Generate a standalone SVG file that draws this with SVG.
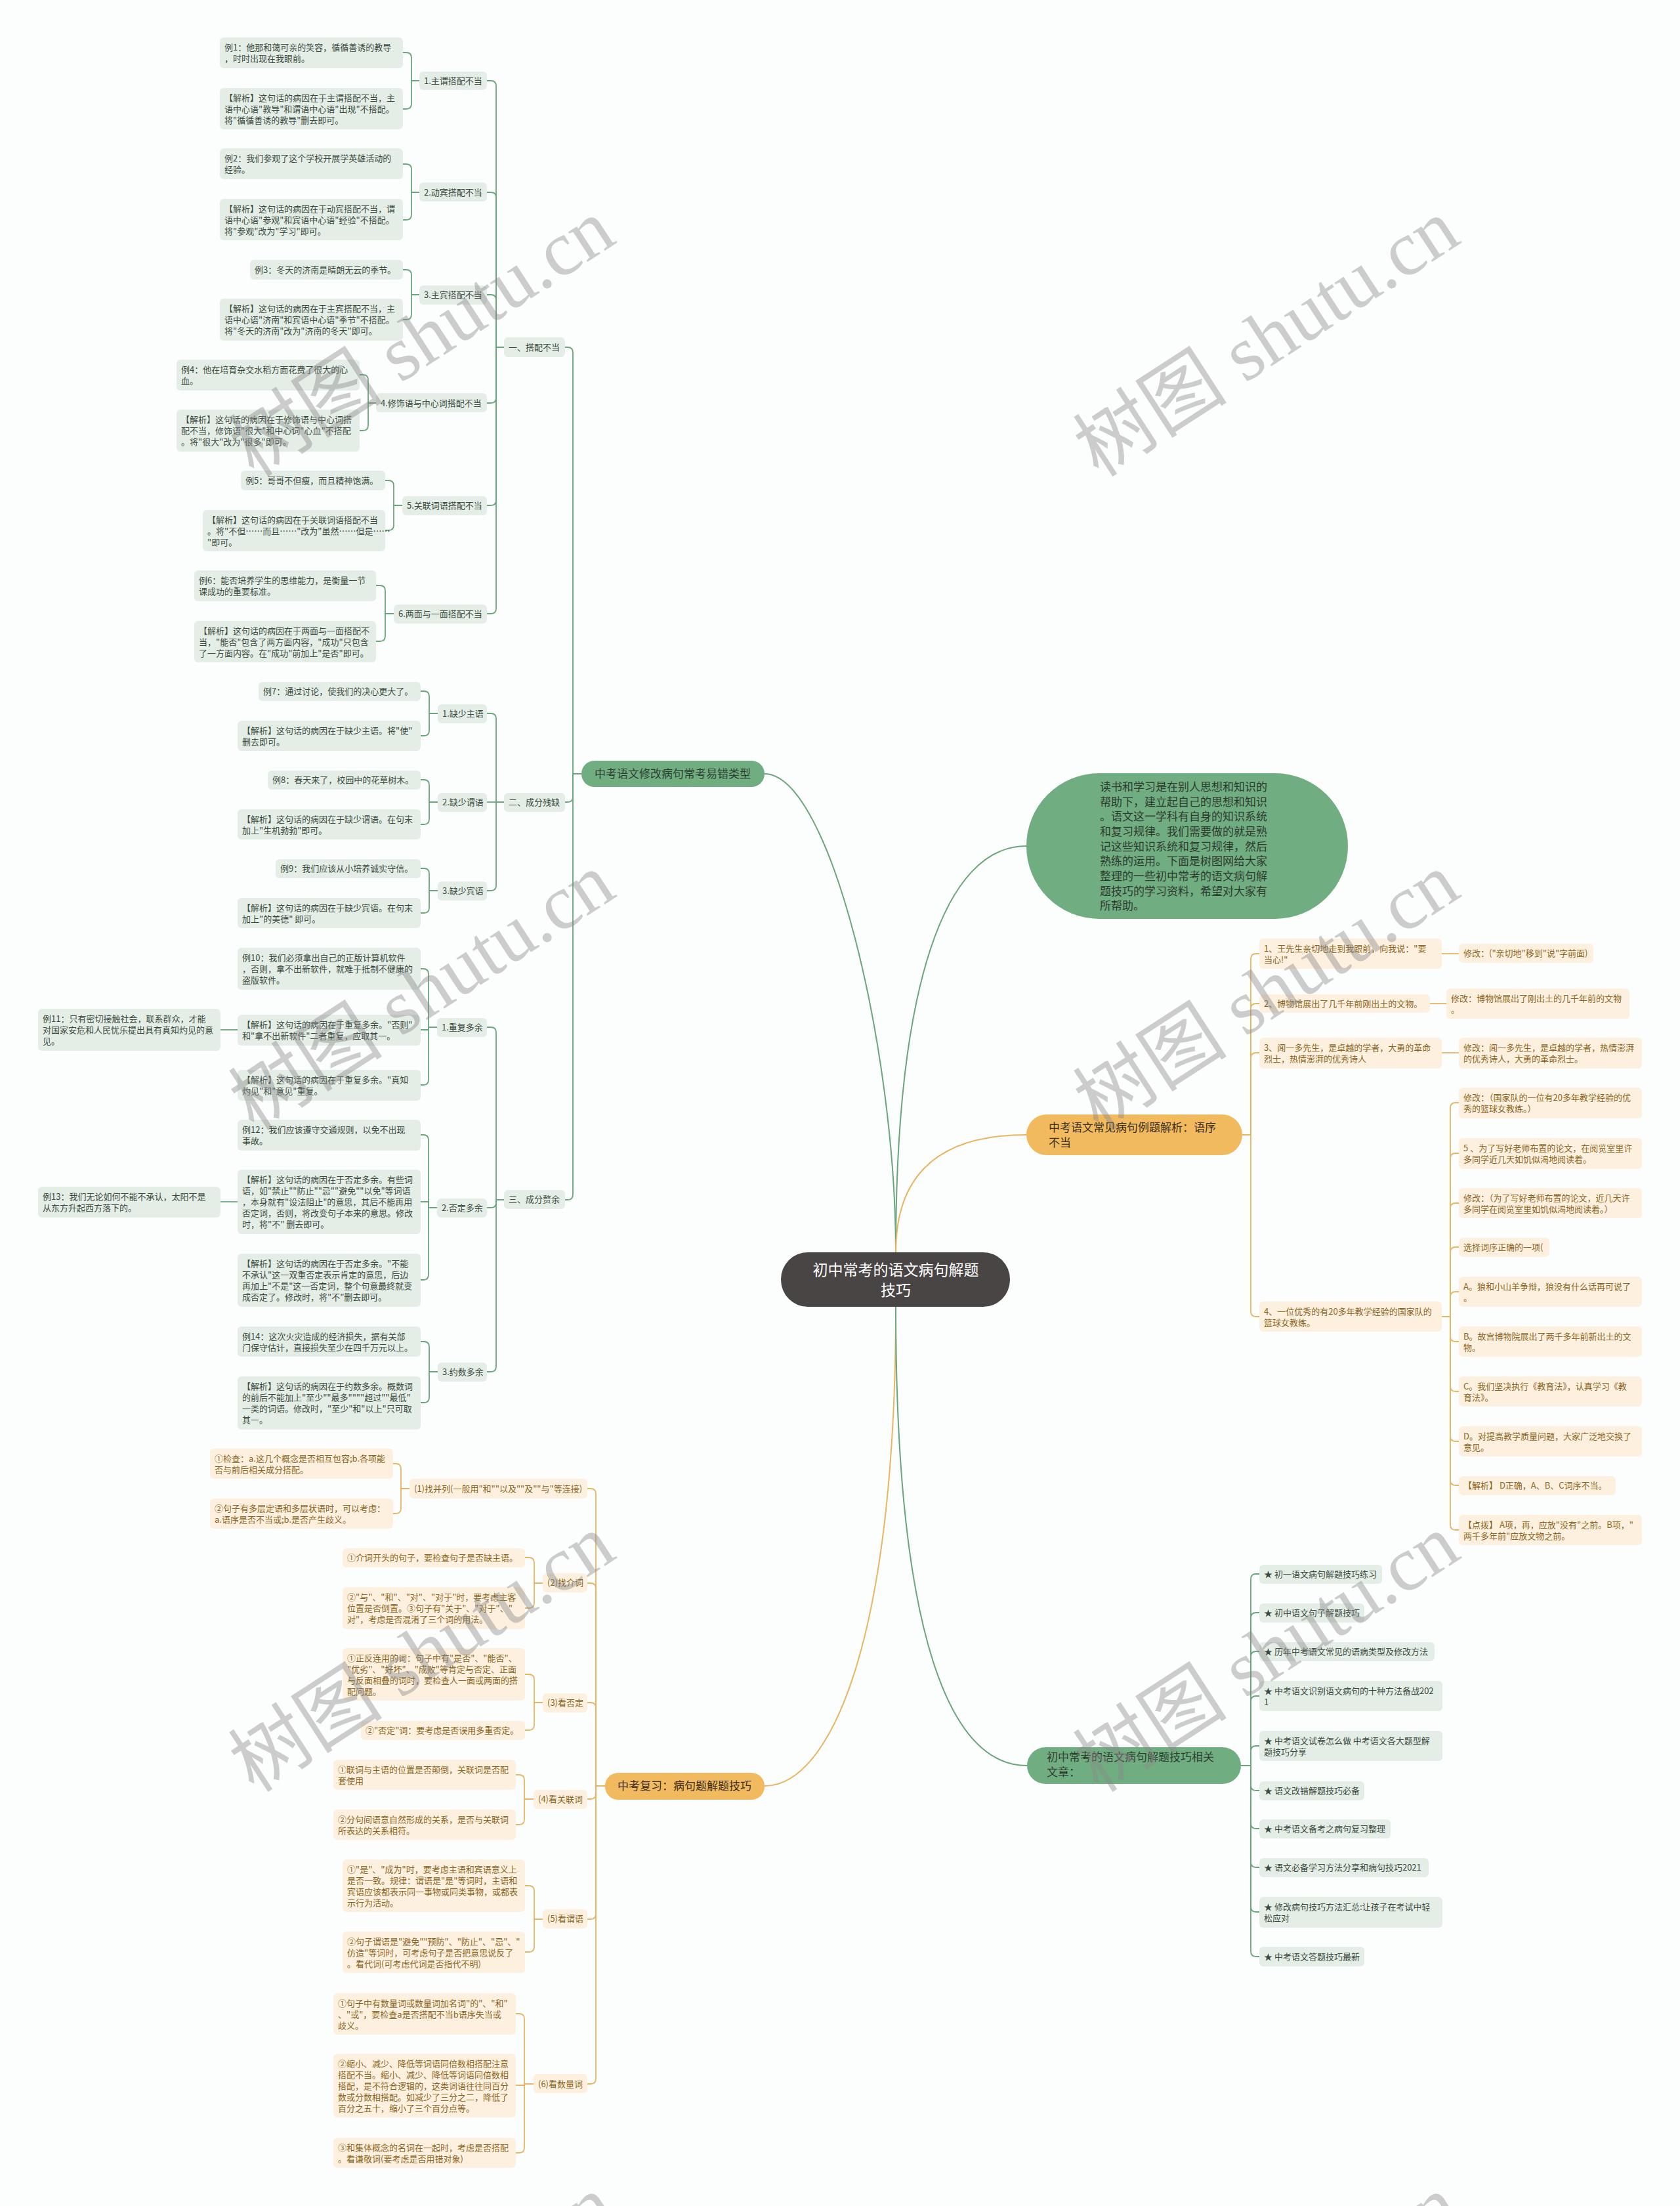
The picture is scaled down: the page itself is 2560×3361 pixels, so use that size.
<svg xmlns="http://www.w3.org/2000/svg" width="2560" height="3361" viewBox="0 0 2560 3361">
<style>
.lg{fill:#e4eee6}
.lo{fill:#fdf0df}
text{font-family:'Noto Sans CJK SC','Liberation Sans',sans-serif}
.tg{font-size:13px;fill:#3b4a3e}
.to{font-size:13px;fill:#8b6522}
.cg{fill:none;stroke:#6aa57b;stroke-width:1.8}
.co{fill:none;stroke:#e8b662;stroke-width:1.8}
.cc{fill:none;stroke-width:2}
.wm{font-family:'Liberation Serif','Noto Sans CJK SC',serif;font-size:118px;fill:#888;opacity:0.42}
</style>
<rect x="0" y="0" width="2560" height="3361" fill="#fcfefd"/>

<g id="connectors">
<path class="cc" stroke="#6aa57b" d="M1365 1908 C1365 1600 1265 1179 1165 1179"/>
<path class="cc" stroke="#6aa57b" d="M1365 1908 C1365 1500 1440 1289 1564 1289"/>
<path class="cc" stroke="#e8b662" d="M1365 1908 C1365 1790 1430 1729 1564 1729"/>
<path class="cc" stroke="#e8b662" d="M1365 1991 C1365 2500 1265 2721 1165 2721"/>
<path class="cc" stroke="#6aa57b" d="M1365 1991 C1365 2500 1450 2690 1565 2690"/>

<path class="cg" d="M886 1179 H873 V537 Q873 529 865 529 H861"/>
<path class="cg" d="M886 1179 H873 V1214 Q873 1222 865 1222 H861"/>
<path class="cg" d="M886 1179 H873 V1820 Q873 1828 865 1828 H860"/>

<path class="cg" d="M768 529 H756 V131 Q756 123 748 123 H742"/>
<path class="cg" d="M768 529 H756 V301 Q756 293 748 293 H742"/>
<path class="cg" d="M768 529 H756 V457 Q756 449 748 449 H742"/>
<path class="cg" d="M768 529 H756 V606 Q756 614 748 614 H742"/>
<path class="cg" d="M768 529 H756 V762 Q756 770 748 770 H742"/>
<path class="cg" d="M768 529 H756 V927 Q756 935 748 935 H742"/>

<path class="cg" d="M639 123 H627 V88 Q627 80 619 80 H614"/>
<path class="cg" d="M639 123 H627 V158 Q627 166 619 166 H614"/>
<path class="cg" d="M639 293 H627 V258 Q627 250 619 250 H614"/>
<path class="cg" d="M639 293 H627 V327 Q627 335 619 335 H614"/>
<path class="cg" d="M639 449 H627 V419 Q627 411 619 411 H614"/>
<path class="cg" d="M639 449 H627 V479 Q627 487 619 487 H614"/>
<path class="cg" d="M573 614 H561 V579 Q561 571 553 571 H548"/>
<path class="cg" d="M573 614 H561 V648 Q561 656 553 656 H548"/>
<path class="cg" d="M613 770 H600 V740 Q600 732 592 732 H587"/>
<path class="cg" d="M613 770 H600 V800 Q600 808 592 808 H587"/>
<path class="cg" d="M600 935 H587 V900 Q587 892 579 892 H573"/>
<path class="cg" d="M600 935 H587 V969 Q587 977 579 977 H573"/>

<path class="cg" d="M768 1222 H756 V1095 Q756 1087 748 1087 H742"/>
<path class="cg" d="M768 1222 H742"/>
<path class="cg" d="M768 1222 H756 V1349 Q756 1357 748 1357 H742"/>
<path class="cg" d="M667 1087 H654 V1061 Q654 1053 646 1053 H641"/>
<path class="cg" d="M667 1087 H654 V1113 Q654 1121 646 1121 H641"/>
<path class="cg" d="M667 1222 H654 V1196 Q654 1188 646 1188 H641"/>
<path class="cg" d="M667 1222 H654 V1248 Q654 1256 646 1256 H641"/>
<path class="cg" d="M667 1357 H654 V1331 Q654 1323 646 1323 H641"/>
<path class="cg" d="M667 1357 H654 V1383 Q654 1391 646 1391 H641"/>

<path class="cg" d="M768 1828 H756 V1573 Q756 1565 748 1565 H742"/>
<path class="cg" d="M768 1828 H756 V1832 Q756 1840 748 1840 H742"/>
<path class="cg" d="M768 1828 H756 V2082 Q756 2090 748 2090 H742"/>
<path class="cg" d="M666 1565 H653 V1484 Q653 1476 645 1476 H641"/>
<path class="cg" d="M666 1565 H653 V1569 H641"/>
<path class="cg" d="M666 1565 H653 V1645 Q653 1653 645 1653 H641"/>
<path class="cg" d="M362 1569 H336"/>
<path class="cg" d="M666 1840 H653 V1737 Q653 1729 645 1729 H641"/>
<path class="cg" d="M666 1840 H653 V1831 H641"/>
<path class="cg" d="M666 1840 H653 V1942 Q653 1950 645 1950 H641"/>
<path class="cg" d="M362 1831 H336"/>
<path class="cg" d="M667 2090 H654 V2052 Q654 2044 646 2044 H641"/>
<path class="cg" d="M667 2090 H654 V2129 Q654 2137 646 2137 H641"/>

<path class="co" d="M922 2721 H908 V2276 Q908 2268 900 2268 H895"/>
<path class="co" d="M922 2721 H908 V2420 Q908 2412 900 2412 H895"/>
<path class="co" d="M922 2721 H908 V2602 Q908 2594 900 2594 H895"/>
<path class="co" d="M922 2721 H908 V2733 Q908 2741 900 2741 H895"/>
<path class="co" d="M922 2721 H908 V2916 Q908 2924 900 2924 H895"/>
<path class="co" d="M922 2721 H908 V3167 Q908 3175 900 3175 H895"/>
<path class="co" d="M624 2268 H611 V2238 Q611 2230 603 2230 H599"/>
<path class="co" d="M624 2268 H611 V2298 Q611 2306 603 2306 H599"/>
<path class="co" d="M827 2412 H814 V2381 Q814 2373 806 2373 H800"/>
<path class="co" d="M827 2412 H814 V2442 Q814 2450 806 2450 H800"/>
<path class="co" d="M827 2594 H814 V2559 Q814 2551 806 2551 H800"/>
<path class="co" d="M827 2594 H814 V2628 Q814 2636 806 2636 H800"/>
<path class="co" d="M813 2741 H799 V2712 Q799 2704 791 2704 H786"/>
<path class="co" d="M813 2741 H799 V2772 Q799 2780 791 2780 H786"/>
<path class="co" d="M827 2924 H814 V2881 Q814 2873 806 2873 H800"/>
<path class="co" d="M827 2924 H814 V2966 Q814 2974 806 2974 H800"/>
<path class="co" d="M813 3175 H799 V3076 Q799 3068 791 3068 H786"/>
<path class="co" d="M813 3175 H799 V3177 H786"/>
<path class="co" d="M813 3175 H799 V3272 Q799 3280 791 3280 H786"/>

<path class="co" d="M1893 1729 H1906 V1461 Q1906 1453 1914 1453 H1919"/>
<path class="co" d="M1893 1729 H1906 V1537 Q1906 1529 1914 1529 H1919"/>
<path class="co" d="M1893 1729 H1906 V1612 Q1906 1604 1914 1604 H1919"/>
<path class="co" d="M1893 1729 H1906 V1998 Q1906 2006 1914 2006 H1919"/>
<path class="co" d="M2197 1453 H2223"/>
<path class="co" d="M2179 1529 H2204"/>
<path class="co" d="M2197 1604 H2223"/>
<path class="co" d="M2197 2006 H2210 V1688 Q2210 1680 2218 1680 H2223"/>
<path class="co" d="M2197 2006 H2210 V1765 Q2210 1757 2218 1757 H2223"/>
<path class="co" d="M2197 2006 H2210 V1841 Q2210 1833 2218 1833 H2223"/>
<path class="co" d="M2197 2006 H2210 V1908 Q2210 1900 2218 1900 H2223"/>
<path class="co" d="M2197 2006 H2210 V1976 Q2210 1968 2218 1968 H2223"/>
<path class="co" d="M2197 2006 H2210 V2036 Q2210 2044 2218 2044 H2223"/>
<path class="co" d="M2197 2006 H2210 V2112 Q2210 2120 2218 2120 H2223"/>
<path class="co" d="M2197 2006 H2210 V2188 Q2210 2196 2218 2196 H2223"/>
<path class="co" d="M2197 2006 H2210 V2255 Q2210 2263 2218 2263 H2223"/>
<path class="co" d="M2197 2006 H2210 V2323 Q2210 2331 2218 2331 H2223"/>

<path class="cg" d="M1891 2690 H1906 V2406 Q1906 2398 1914 2398 H1919"/>
<path class="cg" d="M1891 2690 H1906 V2465 Q1906 2457 1914 2457 H1919"/>
<path class="cg" d="M1891 2690 H1906 V2524 Q1906 2516 1914 2516 H1919"/>
<path class="cg" d="M1891 2690 H1906 V2592 Q1906 2584 1914 2584 H1919"/>
<path class="cg" d="M1891 2690 H1906 V2668 Q1906 2660 1914 2660 H1919"/>
<path class="cg" d="M1891 2690 H1906 V2720 Q1906 2728 1914 2728 H1919"/>
<path class="cg" d="M1891 2690 H1906 V2778 Q1906 2786 1914 2786 H1919"/>
<path class="cg" d="M1891 2690 H1906 V2837 Q1906 2845 1914 2845 H1919"/>
<path class="cg" d="M1891 2690 H1906 V2905 Q1906 2913 1914 2913 H1919"/>
<path class="cg" d="M1891 2690 H1906 V2973 Q1906 2981 1914 2981 H1919"/>
</g>

<g id="center"><rect x="1190" y="1908" width="349" height="83" rx="41" fill="#4a4545"/><text font-size="23" fill="#ffffff" text-anchor="middle"><tspan x="1365" y="1943">初中常考的语文病句解题</tspan><tspan x="1365" y="1974">技巧</tspan></text></g>

<g id="intro"><rect x="1564" y="1178" width="490" height="222" rx="111" fill="#70ae81"/><text font-size="17" fill="#2e3a30"><tspan x="1676" y="1205">读书和学习是在别人思想和知识的</tspan><tspan x="1676" y="1228">帮助下，建立起自己的思想和知识</tspan><tspan x="1676" y="1250">。语文这一学科有自身的知识系统</tspan><tspan x="1676" y="1273">和复习规律。我们需要做的就是熟</tspan><tspan x="1676" y="1296">记这些知识系统和复习规律，然后</tspan><tspan x="1676" y="1318">熟练的运用。下面是树图网给大家</tspan><tspan x="1676" y="1341">整理的一些初中常考的语文病句解</tspan><tspan x="1676" y="1364">题技巧的学习资料，希望对大家有</tspan><tspan x="1676" y="1386">所帮助。</tspan></text></g>

<g id="main-green"><rect x="886" y="1159" width="279" height="40" rx="20" fill="#70ae81"/><text font-size="17" fill="#2d3f31" text-anchor="middle" x="1025" y="1185">中考语文修改病句常考易错类型</text></g>
<g id="main-orange"><rect x="922" y="2701" width="243" height="41" rx="20" fill="#f2ba5e"/><text font-size="17" fill="#3a2e1a" text-anchor="middle" x="1043" y="2727">中考复习：病句题解题技巧</text></g>
<g id="main-order"><rect x="1564" y="1698" width="329" height="62" rx="31" fill="#f2ba5e"/><text font-size="17" fill="#3a2e1a"><tspan x="1598" y="1724">中考语文常见病句例题解析：语序</tspan><tspan x="1598" y="1747">不当</tspan></text></g>
<g id="main-related"><rect x="1565" y="2662" width="326" height="56" rx="28" fill="#70ae81"/><text font-size="17" fill="#2d3f31"><tspan x="1595" y="2683">初中常考的语文病句解题技巧相关</tspan><tspan x="1595" y="2706">文章：</tspan></text></g>

<g id="n1"><rect class="lg" x="768" y="514" width="93" height="30" rx="6"/><text class="tg" x="775" y="534">一、搭配不当</text></g>
<g id="z1"><rect class="lg" x="639" y="109" width="103" height="28" rx="6"/><text class="tg" x="646" y="128">1.主谓搭配不当</text></g>
<g id="e1"><rect class="lg" x="335" y="57" width="279" height="47" rx="6"/><text class="tg"><tspan x="342" y="77">例1：他那和蔼可亲的笑容，循循善诱的教导</tspan><tspan x="342" y="94">，时时出现在我眼前。</tspan></text></g>
<g id="a1"><rect class="lg" x="335" y="134" width="279" height="63" rx="6"/><text class="tg"><tspan x="342" y="154">【解析】这句话的病因在于主谓搭配不当，主</tspan><tspan x="342" y="171">语中心语"教导"和谓语中心语"出现"不搭配。</tspan><tspan x="342" y="188">将"循循善诱的教导"删去即可。</tspan></text></g>
<g id="z2"><rect class="lg" x="639" y="278" width="103" height="29" rx="6"/><text class="tg" x="646" y="298">2.动宾搭配不当</text></g>
<g id="e2"><rect class="lg" x="335" y="226" width="279" height="47" rx="6"/><text class="tg"><tspan x="342" y="246">例2：我们参观了这个学校开展学英雄活动的</tspan><tspan x="342" y="263">经验。</tspan></text></g>
<g id="a2"><rect class="lg" x="335" y="303" width="279" height="63" rx="6"/><text class="tg"><tspan x="342" y="323">【解析】这句话的病因在于动宾搭配不当，谓</tspan><tspan x="342" y="340">语中心语"参观"和宾语中心语"经验"不搭配。</tspan><tspan x="342" y="357">将"参观"改为"学习"即可。</tspan></text></g>
<g id="z3"><rect class="lg" x="639" y="435" width="103" height="29" rx="6"/><text class="tg" x="646" y="454">3.主宾搭配不当</text></g>
<g id="e3"><rect class="lg" x="381" y="396" width="233" height="30" rx="6"/><text class="tg" x="388" y="416">例3：冬天的济南是晴朗无云的季节。</text></g>
<g id="a3"><rect class="lg" x="335" y="455" width="279" height="64" rx="6"/><text class="tg"><tspan x="342" y="475">【解析】这句话的病因在于主宾搭配不当，主</tspan><tspan x="342" y="492">语中心语"济南"和宾语中心语"季节"不搭配。</tspan><tspan x="342" y="509">将"冬天的济南"改为"济南的冬天"即可。</tspan></text></g>
<g id="z4"><rect class="lg" x="573" y="599" width="169" height="29" rx="6"/><text class="tg" x="580" y="619">4.修饰语与中心词搭配不当</text></g>
<g id="e4"><rect class="lg" x="269" y="548" width="279" height="47" rx="6"/><text class="tg"><tspan x="276" y="568">例4：他在培育杂交水稻方面花费了很大的心</tspan><tspan x="276" y="585">血。</tspan></text></g>
<g id="a4"><rect class="lg" x="269" y="624" width="279" height="64" rx="6"/><text class="tg"><tspan x="276" y="644">【解析】这句话的病因在于修饰语与中心词搭</tspan><tspan x="276" y="661">配不当，修饰语"很大"和中心词"心血"不搭配</tspan><tspan x="276" y="678">。将"很大"改为"很多"即可。</tspan></text></g>
<g id="z5"><rect class="lg" x="613" y="756" width="129" height="29" rx="6"/><text class="tg" x="620" y="775">5.关联词语搭配不当</text></g>
<g id="e5"><rect class="lg" x="367" y="717" width="220" height="30" rx="6"/><text class="tg" x="374" y="737">例5：哥哥不但瘦，而且精神饱满。</text></g>
<g id="a5"><rect class="lg" x="309" y="777" width="278" height="63" rx="6"/><text class="tg"><tspan x="316" y="797">【解析】这句话的病因在于关联词语搭配不当</tspan><tspan x="316" y="814">。将"不但……而且……"改为"虽然……但是……</tspan><tspan x="316" y="831">"即可。</tspan></text></g>
<g id="z6"><rect class="lg" x="600" y="921" width="142" height="29" rx="6"/><text class="tg" x="607" y="940">6.两面与一面搭配不当</text></g>
<g id="e6"><rect class="lg" x="296" y="869" width="277" height="47" rx="6"/><text class="tg"><tspan x="303" y="889">例6：能否培养学生的思维能力，是衡量一节</tspan><tspan x="303" y="906">课成功的重要标准。</tspan></text></g>
<g id="a6"><rect class="lg" x="296" y="946" width="277" height="63" rx="6"/><text class="tg"><tspan x="303" y="966">【解析】这句话的病因在于两面与一面搭配不</tspan><tspan x="303" y="983">当，"能否"包含了两方面内容，"成功"只包含</tspan><tspan x="303" y="1000">了一方面内容。在"成功"前加上"是否"即可。</tspan></text></g>

<g id="n2"><rect class="lg" x="768" y="1208" width="93" height="29" rx="6"/><text class="tg" x="775" y="1227">二、成分残缺</text></g>
<g id="k1"><rect class="lg" x="667" y="1073" width="75" height="29" rx="6"/><text class="tg" x="674" y="1092">1.缺少主语</text></g>
<g id="e7"><rect class="lg" x="394" y="1039" width="247" height="29" rx="6"/><text class="tg" x="401" y="1058">例7：通过讨论，使我们的决心更大了。</text></g>
<g id="a7"><rect class="lg" x="362" y="1098" width="279" height="46" rx="6"/><text class="tg"><tspan x="369" y="1118">【解析】这句话的病因在于缺少主语。将"使"</tspan><tspan x="369" y="1135">删去即可。</tspan></text></g>
<g id="k2"><rect class="lg" x="667" y="1208" width="75" height="29" rx="6"/><text class="tg" x="674" y="1227">2.缺少谓语</text></g>
<g id="e8"><rect class="lg" x="408" y="1174" width="233" height="29" rx="6"/><text class="tg" x="415" y="1193">例8：春天来了，校园中的花草树木。</text></g>
<g id="a8"><rect class="lg" x="362" y="1233" width="279" height="46" rx="6"/><text class="tg"><tspan x="369" y="1253">【解析】这句话的病因在于缺少谓语。在句末</tspan><tspan x="369" y="1270">加上"生机勃勃"即可。</tspan></text></g>
<g id="k3"><rect class="lg" x="667" y="1343" width="75" height="29" rx="6"/><text class="tg" x="674" y="1362">3.缺少宾语</text></g>
<g id="e9"><rect class="lg" x="420" y="1309" width="221" height="29" rx="6"/><text class="tg" x="427" y="1328">例9：我们应该从小培养诚实守信。</text></g>
<g id="a9"><rect class="lg" x="362" y="1368" width="279" height="46" rx="6"/><text class="tg"><tspan x="369" y="1388">【解析】这句话的病因在于缺少宾语。在句末</tspan><tspan x="369" y="1405">加上"的美德" 即可。</tspan></text></g>

<g id="n3"><rect class="lg" x="768" y="1813" width="93" height="29" rx="6"/><text class="tg" x="775" y="1832">三、成分赘余</text></g>
<g id="r1"><rect class="lg" x="666" y="1551" width="76" height="29" rx="6"/><text class="tg" x="673" y="1570">1.重复多余</text></g>
<g id="e10"><rect class="lg" x="362" y="1444" width="279" height="64" rx="6"/><text class="tg"><tspan x="369" y="1464">例10：我们必须拿出自己的正版计算机软件</tspan><tspan x="369" y="1481">，否则，拿不出新软件，就难于抵制不健康的</tspan><tspan x="369" y="1498">盗版软件。</tspan></text></g>
<g id="a10"><rect class="lg" x="362" y="1546" width="279" height="47" rx="6"/><text class="tg"><tspan x="369" y="1566">【解析】这句话的病因在于重复多余。"否则"</tspan><tspan x="369" y="1583">和"拿不出新软件"二者重复，应取其一。</tspan></text></g>
<g id="e11"><rect class="lg" x="58" y="1537" width="278" height="64" rx="6"/><text class="tg"><tspan x="65" y="1557">例11：只有密切接触社会，联系群众，才能</tspan><tspan x="65" y="1574">对国家安危和人民忧乐提出具有真知灼见的意</tspan><tspan x="65" y="1591">见。</tspan></text></g>
<g id="a11"><rect class="lg" x="362" y="1630" width="279" height="47" rx="6"/><text class="tg"><tspan x="369" y="1650">【解析】这句话的病因在于重复多余。"真知</tspan><tspan x="369" y="1667">灼见"和"意见"重复。</tspan></text></g>
<g id="r2"><rect class="lg" x="666" y="1826" width="76" height="29" rx="6"/><text class="tg" x="673" y="1845">2.否定多余</text></g>
<g id="e12"><rect class="lg" x="362" y="1706" width="279" height="47" rx="6"/><text class="tg"><tspan x="369" y="1726">例12：我们应该遵守交通规则，以免不出现</tspan><tspan x="369" y="1743">事故。</tspan></text></g>
<g id="a12"><rect class="lg" x="362" y="1782" width="279" height="98" rx="6"/><text class="tg"><tspan x="369" y="1802">【解析】这句话的病因在于否定多余。有些词</tspan><tspan x="369" y="1819">语，如"禁止""防止""忌""避免""以免"等词语</tspan><tspan x="369" y="1836">，本身就有"设法阻止"的意思，其后不能再用</tspan><tspan x="369" y="1853">否定词，否则，将改变句子本来的意思。修改</tspan><tspan x="369" y="1870">时，将"不" 删去即可。</tspan></text></g>
<g id="e13"><rect class="lg" x="58" y="1808" width="278" height="47" rx="6"/><text class="tg"><tspan x="65" y="1828">例13：我们无论如何不能不承认，太阳不是</tspan><tspan x="65" y="1845">从东方升起西方落下的。</tspan></text></g>
<g id="a13"><rect class="lg" x="362" y="1910" width="279" height="81" rx="6"/><text class="tg"><tspan x="369" y="1930">【解析】这句话的病因在于否定多余。"不能</tspan><tspan x="369" y="1947">不承认"这一双重否定表示肯定的意思，后边</tspan><tspan x="369" y="1964">再加上"不是"这一否定词，整个句意最终就变</tspan><tspan x="369" y="1981">成否定了。修改时，将"不"删去即可。</tspan></text></g>
<g id="r3"><rect class="lg" x="667" y="2076" width="75" height="29" rx="6"/><text class="tg" x="674" y="2095">3.约数多余</text></g>
<g id="e14"><rect class="lg" x="362" y="2021" width="279" height="46" rx="6"/><text class="tg"><tspan x="369" y="2041">例14：这次火灾造成的经济损失，据有关部</tspan><tspan x="369" y="2058">门保守估计，直接损失至少在四千万元以上。</tspan></text></g>
<g id="a14"><rect class="lg" x="362" y="2097" width="279" height="81" rx="6"/><text class="tg"><tspan x="369" y="2117">【解析】这句话的病因在于约数多余。概数词</tspan><tspan x="369" y="2134">的前后不能加上"至少""最多""""超过""最低"</tspan><tspan x="369" y="2151">一类的词语。修改时，"至少"和"以上"只可取</tspan><tspan x="369" y="2168">其一。</tspan></text></g>

<g id="p1"><rect class="lo" x="624" y="2253" width="271" height="30" rx="6"/><text class="to" x="631" y="2273">(1)找并列(一般用"和""以及""及""与"等连接)</text></g>
<g id="o11"><rect class="lo" x="320" y="2207" width="279" height="46" rx="6"/><text class="to"><tspan x="327" y="2227">①检查：a.这几个概念是否相互包容;b.各项能</tspan><tspan x="327" y="2244">否与前后相关成分搭配。</tspan></text></g>
<g id="o12"><rect class="lo" x="320" y="2283" width="279" height="46" rx="6"/><text class="to"><tspan x="327" y="2303">②句子有多层定语和多层状语时，可以考虑：</tspan><tspan x="327" y="2320">a.语序是否不当或;b.是否产生歧义。</tspan></text></g>
<g id="p2"><rect class="lo" x="827" y="2397" width="68" height="29" rx="6"/><text class="to" x="834" y="2416">(2)找介词</text></g>
<g id="o21"><rect class="lo" x="522" y="2359" width="278" height="29" rx="6"/><text class="to" x="529" y="2378">①介词开头的句子，要检查句子是否缺主语。</text></g>
<g id="o22"><rect class="lo" x="522" y="2418" width="278" height="64" rx="6"/><text class="to"><tspan x="529" y="2438">②"与"、"和"、"对"、"对于"时，要考虑主客</tspan><tspan x="529" y="2455">位置是否倒置。③句子有"关于"、"对于"、"</tspan><tspan x="529" y="2472">对"，考虑是否混淆了三个词的用法。</tspan></text></g>
<g id="p3"><rect class="lo" x="827" y="2580" width="68" height="29" rx="6"/><text class="to" x="834" y="2599">(3)看否定</text></g>
<g id="o31"><rect class="lo" x="522" y="2511" width="278" height="80" rx="6"/><text class="to"><tspan x="529" y="2531">①正反连用的词：句子中有"是否"、"能否"、</tspan><tspan x="529" y="2548">"优劣"、"好坏"、"成败"等肯定与否定、正面</tspan><tspan x="529" y="2565">与反面相叠的词时，要检查人一面或两面的搭</tspan><tspan x="529" y="2582">配问题。</tspan></text></g>
<g id="o32"><rect class="lo" x="550" y="2622" width="250" height="29" rx="6"/><text class="to" x="557" y="2641">②"否定"词：要考虑是否误用多重否定。</text></g>
<g id="p4"><rect class="lo" x="813" y="2727" width="82" height="29" rx="6"/><text class="to" x="820" y="2746">(4)看关联词</text></g>
<g id="o41"><rect class="lo" x="508" y="2681" width="278" height="46" rx="6"/><text class="to"><tspan x="515" y="2701">①联词与主语的位置是否颠倒，关联词是否配</tspan><tspan x="515" y="2718">套使用</tspan></text></g>
<g id="o42"><rect class="lo" x="508" y="2757" width="278" height="46" rx="6"/><text class="to"><tspan x="515" y="2777">②分句间语意自然形成的关系，是否与关联词</tspan><tspan x="515" y="2794">所表达的关系相符。</tspan></text></g>
<g id="p5"><rect class="lo" x="827" y="2909" width="68" height="29" rx="6"/><text class="to" x="834" y="2928">(5)看谓语</text></g>
<g id="o51"><rect class="lo" x="522" y="2833" width="278" height="80" rx="6"/><text class="to"><tspan x="529" y="2853">①"是"、"成为"时，要考虑主语和宾语意义上</tspan><tspan x="529" y="2870">是否一致。规律：谓语是"是"等词时，主语和</tspan><tspan x="529" y="2887">宾语应该都表示同一事物或同类事物，或都表</tspan><tspan x="529" y="2904">示行为活动。</tspan></text></g>
<g id="o52"><rect class="lo" x="522" y="2943" width="278" height="63" rx="6"/><text class="to"><tspan x="529" y="2963">②句子谓语是"避免""预防"、"防止"、"忌"、"</tspan><tspan x="529" y="2980">仿造"等词时，可考虑句子是否把意思说反了</tspan><tspan x="529" y="2997">。看代词(可考虑代词是否指代不明)</tspan></text></g>
<g id="p6"><rect class="lo" x="813" y="3160" width="82" height="29" rx="6"/><text class="to" x="820" y="3180">(6)看数量词</text></g>
<g id="o61"><rect class="lo" x="508" y="3037" width="278" height="63" rx="6"/><text class="to"><tspan x="515" y="3057">①句子中有数量词或数量词加名词"的"、"和"</tspan><tspan x="515" y="3074">、"或"，要检查a是否搭配不当b语序失当或</tspan><tspan x="515" y="3091">歧义。</tspan></text></g>
<g id="o62"><rect class="lo" x="508" y="3129" width="278" height="97" rx="6"/><text class="to"><tspan x="515" y="3149">②缩小、减少、降低等词语同倍数相搭配注意</tspan><tspan x="515" y="3166">搭配不当。缩小、减少、降低等词语同倍数相</tspan><tspan x="515" y="3183">搭配，是不符合逻辑的，这类词语往往同百分</tspan><tspan x="515" y="3200">数或分数相搭配。如减少了三分之二，降低了</tspan><tspan x="515" y="3217">百分之五十，缩小了三个百分点等。</tspan></text></g>
<g id="o63"><rect class="lo" x="508" y="3257" width="278" height="46" rx="6"/><text class="to"><tspan x="515" y="3277">③和集体概念的名词在一起时，考虑是否搭配</tspan><tspan x="515" y="3294">。看谦敬词(要考虑是否用错对象)</tspan></text></g>

<g id="y1"><rect class="lo" x="1919" y="1430" width="278" height="46" rx="6"/><text class="to"><tspan x="1926" y="1450">1、王先生亲切地走到我跟前，向我说："要</tspan><tspan x="1926" y="1467">当心!"</tspan></text></g>
<g id="y1m"><rect class="lo" x="2223" y="1438" width="205" height="29" rx="6"/><text class="to" x="2230" y="1457">修改：("亲切地"移到"说"字前面)</text></g>
<g id="y2"><rect class="lo" x="1919" y="1515" width="260" height="28" rx="6"/><text class="to" x="1926" y="1534">2、博物馆展出了几千年前刚出土的文物。</text></g>
<g id="y2m"><rect class="lo" x="2204" y="1506" width="279" height="46" rx="6"/><text class="to"><tspan x="2211" y="1526">修改：博物馆展出了刚出土的几千年前的文物</tspan><tspan x="2211" y="1543">。</tspan></text></g>
<g id="y3"><rect class="lo" x="1919" y="1581" width="278" height="47" rx="6"/><text class="to"><tspan x="1926" y="1601">3、闻一多先生，是卓越的学者，大勇的革命</tspan><tspan x="1926" y="1618">烈士，热情澎湃的优秀诗人</tspan></text></g>
<g id="y3m"><rect class="lo" x="2223" y="1581" width="279" height="47" rx="6"/><text class="to"><tspan x="2230" y="1601">修改：闻一多先生，是卓越的学者，热情澎湃</tspan><tspan x="2230" y="1618">的优秀诗人，大勇的革命烈士。</tspan></text></g>
<g id="y4"><rect class="lo" x="1919" y="1983" width="278" height="46" rx="6"/><text class="to"><tspan x="1926" y="2003">4、一位优秀的有20多年教学经验的国家队的</tspan><tspan x="1926" y="2020">篮球女教练。</tspan></text></g>
<g id="c1"><rect class="lo" x="2223" y="1657" width="279" height="47" rx="6"/><text class="to"><tspan x="2230" y="1677">修改：（国家队的一位有20多年教学经验的优</tspan><tspan x="2230" y="1694">秀的篮球女教练。）</tspan></text></g>
<g id="c2"><rect class="lo" x="2223" y="1734" width="279" height="47" rx="6"/><text class="to"><tspan x="2230" y="1754">5 、为了写好老师布置的论文，在阅览室里许</tspan><tspan x="2230" y="1771">多同学近几天如饥似渴地阅读着。</tspan></text></g>
<g id="c3"><rect class="lo" x="2223" y="1810" width="279" height="46" rx="6"/><text class="to"><tspan x="2230" y="1830">修改：（为了写好老师布置的论文，近几天许</tspan><tspan x="2230" y="1847">多同学在阅览室里如饥似渴地阅读着。）</tspan></text></g>
<g id="c4"><rect class="lo" x="2223" y="1886" width="138" height="29" rx="6"/><text class="to" x="2230" y="1905">选择词序正确的一项(</text></g>
<g id="c5"><rect class="lo" x="2223" y="1945" width="279" height="46" rx="6"/><text class="to"><tspan x="2230" y="1965">A。狼和小山羊争辩，狼没有什么话再可说了</tspan><tspan x="2230" y="1982">。</tspan></text></g>
<g id="c6"><rect class="lo" x="2223" y="2021" width="279" height="46" rx="6"/><text class="to"><tspan x="2230" y="2041">B。故宫博物院展出了两千多年前新出土的文</tspan><tspan x="2230" y="2058">物。</tspan></text></g>
<g id="c7"><rect class="lo" x="2223" y="2097" width="279" height="46" rx="6"/><text class="to"><tspan x="2230" y="2117">C。我们坚决执行《教育法》，认真学习《教</tspan><tspan x="2230" y="2134">育法》。</tspan></text></g>
<g id="c8"><rect class="lo" x="2223" y="2173" width="279" height="46" rx="6"/><text class="to"><tspan x="2230" y="2193">D。对提高教学质量问题，大家广泛地交换了</tspan><tspan x="2230" y="2210">意见。</tspan></text></g>
<g id="c9"><rect class="lo" x="2223" y="2249" width="239" height="29" rx="6"/><text class="to" x="2230" y="2268">【解析】 D正确，A、B、C词序不当。</text></g>
<g id="c10"><rect class="lo" x="2223" y="2308" width="279" height="46" rx="6"/><text class="to"><tspan x="2230" y="2328">【点拨】 A项，再，应放"没有"之前。B项，"</tspan><tspan x="2230" y="2345">两千多年前"应放文物之前。</tspan></text></g>

<g id="s1"><rect class="lg" x="1919" y="2384" width="187" height="29" rx="6"/><text class="tg" x="1926" y="2403">★ 初一语文病句解题技巧练习</text></g>
<g id="s2"><rect class="lg" x="1919" y="2443" width="160" height="29" rx="6"/><text class="tg" x="1926" y="2462">★ 初中语文句子解题技巧</text></g>
<g id="s3"><rect class="lg" x="1919" y="2502" width="267" height="29" rx="6"/><text class="tg" x="1926" y="2521">★ 历年中考语文常见的语病类型及修改方法</text></g>
<g id="s4"><rect class="lg" x="1919" y="2561" width="279" height="46" rx="6"/><text class="tg"><tspan x="1926" y="2581">★ 中考语文识别语文病句的十种方法备战202</tspan><tspan x="1926" y="2598">1</tspan></text></g>
<g id="s5"><rect class="lg" x="1919" y="2637" width="279" height="46" rx="6"/><text class="tg"><tspan x="1926" y="2657">★ 中考语文试卷怎么做 中考语文各大题型解</tspan><tspan x="1926" y="2674">题技巧分享</tspan></text></g>
<g id="s6"><rect class="lg" x="1919" y="2714" width="160" height="29" rx="6"/><text class="tg" x="1926" y="2733">★ 语文改错解题技巧必备</text></g>
<g id="s7"><rect class="lg" x="1919" y="2772" width="200" height="29" rx="6"/><text class="tg" x="1926" y="2791">★ 中考语文备考之病句复习整理</text></g>
<g id="s8"><rect class="lg" x="1919" y="2831" width="258" height="29" rx="6"/><text class="tg" x="1926" y="2850">★ 语文必备学习方法分享和病句技巧2021</text></g>
<g id="s9"><rect class="lg" x="1919" y="2890" width="279" height="47" rx="6"/><text class="tg"><tspan x="1926" y="2910">★ 修改病句技巧方法汇总:让孩子在考试中轻</tspan><tspan x="1926" y="2927">松应对</tspan></text></g>
<g id="s10"><rect class="lg" x="1919" y="2966" width="160" height="30" rx="6"/><text class="tg" x="1926" y="2986">★ 中考语文答题技巧最新</text></g>

<g id="watermarks">
<text class="wm" text-anchor="middle" transform="translate(643 515) rotate(-33)" y="40">树图 shutu.cn</text>
<text class="wm" text-anchor="middle" transform="translate(1930 515) rotate(-33)" y="40">树图 shutu.cn</text>
<text class="wm" text-anchor="middle" transform="translate(643 1511) rotate(-33)" y="40">树图 shutu.cn</text>
<text class="wm" text-anchor="middle" transform="translate(1930 1511) rotate(-33)" y="40">树图 shutu.cn</text>
<text class="wm" text-anchor="middle" transform="translate(643 2519) rotate(-33)" y="40">树图 shutu.cn</text>
<text class="wm" text-anchor="middle" transform="translate(1930 2519) rotate(-33)" y="40">树图 shutu.cn</text>
<text class="wm" text-anchor="middle" transform="translate(643 3526) rotate(-33)" y="40">树图 shutu.cn</text>
<text class="wm" text-anchor="middle" transform="translate(1930 3526) rotate(-33)" y="40">树图 shutu.cn</text>
</g>
</svg>
